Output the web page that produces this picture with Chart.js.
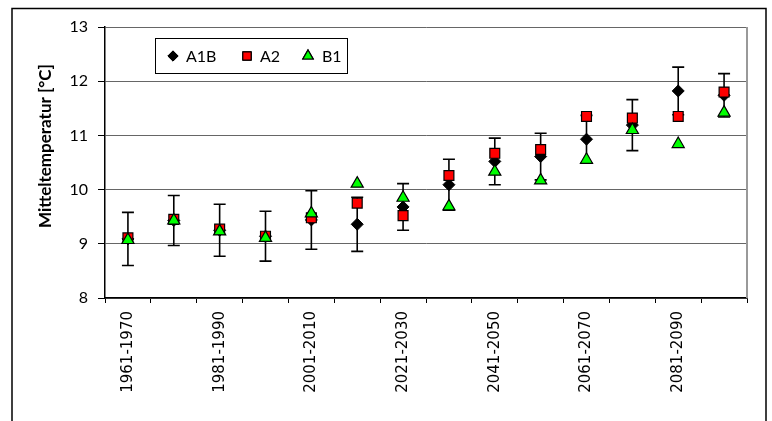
<!DOCTYPE html>
<html>
<head>
<meta charset="utf-8">
<script src="https://cdn.jsdelivr.net/npm/chart.js"></script>
<style>
  html, body { margin: 0; padding: 0; background: #fff; }
  #wrap { position: relative; width: 772px; height: 421px; }
</style>
</head>
<body>
<div id="wrap"><canvas id="myChart" width="772" height="421"></canvas></div>
<script>
const categories = ['1961-1970', '1971-1980', '1981-1990', '1991-2000', '2001-2010', '2011-2020', '2021-2030',
  '2031-2040', '2041-2050', '2051-2060', '2061-2070', '2071-2080', '2081-2090', '2091-2100'];
const a1b = [9.09, 9.43, 9.25, 9.14, 9.44, 9.36, 9.68, 10.09, 10.52, 10.61, 10.93, 11.19, 11.82, 11.74];
const a2 = [9.11, 9.45, 9.27, 9.14, 9.48, 9.75, 9.52, 10.26, 10.67, 10.74, 11.35, 11.32, 11.35, 11.80];
const b1 = [9.07, 9.43, 9.23, 9.11, 9.56, 10.11, 9.85, 9.69, 10.33, 10.17, 10.55, 11.10, 10.84, 11.42];
const a1bErr = [0.49, 0.46, 0.48, 0.46, 0.54, 0.50, 0.43, 0.47, 0.43, 0.43, 0.44, 0.47, 0.44, 0.40];
const yTicks = [8, 9, 10, 11, 12, 13];

// error bars for A1B, drawn under the markers
const errorBars = {
  id: 'errorBars',
  beforeDatasetsDraw(chart) {
    const ctx = chart.ctx;
    const x = chart.scales.x, y = chart.scales.y;
    ctx.save();
    ctx.strokeStyle = '#000';
    ctx.lineWidth = 1.6;
    a1b.forEach((v, i) => {
      const px = x.getPixelForValue(i);
      const top = y.getPixelForValue(v + a1bErr[i]);
      const bot = y.getPixelForValue(v - a1bErr[i]);
      ctx.beginPath();
      ctx.moveTo(px, top); ctx.lineTo(px, bot);
      ctx.moveTo(px - 6, top); ctx.lineTo(px + 6, top);
      ctx.moveTo(px - 6, bot); ctx.lineTo(px + 6, bot);
      ctx.stroke();
    });
    ctx.restore();
  }
};

const frame = {
  id: 'frame',
  afterDraw(chart) {
    const ctx = chart.ctx;
    const a = chart.chartArea;
    ctx.save();
    // right edge of plot area
    ctx.strokeStyle = '#999';
    ctx.lineWidth = 2;
    ctx.beginPath();
    ctx.moveTo(a.right, a.top); ctx.lineTo(a.right, a.bottom);
    ctx.stroke();

    // outer chart border
    ctx.strokeStyle = '#000';
    ctx.lineWidth = 1.5;
    ctx.beginPath();
    ctx.moveTo(12, 421); ctx.lineTo(12, 8.5); ctx.lineTo(766, 8.5); ctx.lineTo(766, 421);
    ctx.stroke();

    // y axis title
    ctx.fillStyle = '#000';
    ctx.font = 'bold 17px Lato';
    ctx.textAlign = 'center';
    ctx.textBaseline = 'middle';
    ctx.translate(46, 146);
    ctx.rotate(-Math.PI / 2);
    ctx.fillText('Mitteltemperatur [°C]', 0, 0);
    ctx.restore();

    // legend box
    ctx.save();
    ctx.fillStyle = '#fff';
    ctx.fillRect(155, 38, 192, 35);
    ctx.strokeStyle = '#000';
    ctx.lineWidth = 1;
    ctx.strokeRect(155.5, 38.5, 192, 35);
    const items = [[173, 186], [247, 260], [308, 322]];
    ctx.font = '16px Lato';
    ctx.textBaseline = 'middle';
    ctx.textAlign = 'left';
    chart.data.datasets.forEach((ds, i) => {
      const [mx, tx] = items[i];
      Chart.helpers.drawPoint(ctx, {
        pointStyle: ds.pointStyle,
        radius: ds.pointRadius * 0.85,
        borderWidth: ds.pointBorderWidth
      }, mx, 56);
      ctx.fillStyle = ds.backgroundColor;
      ctx.strokeStyle = ds.borderColor;
      ctx.lineWidth = ds.pointBorderWidth;
      ctx.fill();
      ctx.stroke();
      ctx.fillStyle = '#000';
      ctx.fillText(ds.label, tx, 57);
    });
    ctx.restore();
  }
};

const ctx = document.getElementById('myChart').getContext('2d');
new Chart(ctx, {
  type: 'line',
  data: {
    labels: categories,
    datasets: [
      { label: 'A1B', data: a1b, showLine: false, pointStyle: 'rectRot', pointRadius: 6,
        backgroundColor: '#000', borderColor: '#000', pointBorderWidth: 1, order: 3 },
      { label: 'A2', data: a2, showLine: false, pointStyle: 'rect', pointRadius: 7,
        backgroundColor: '#ff0000', borderColor: '#000', pointBorderWidth: 1.2, order: 2 },
      { label: 'B1', data: b1, showLine: false, pointStyle: 'triangle', pointRadius: 7,
        backgroundColor: '#00ff00', borderColor: '#000', pointBorderWidth: 1.2, order: 1 }
    ]
  },
  options: {
    responsive: false,
    animation: false,
    layout: { padding: { left: 0, right: 25, top: 27, bottom: 0 } },
    plugins: {
      legend: { display: false },
      tooltip: { enabled: false }
    },
    scales: {
      x: {
        offset: true,
        grid: { offset: true, drawOnChartArea: false, drawTicks: true, tickLength: 5, tickColor: '#000', lineWidth: 1 },
        border: { color: '#000', width: 1.5 },
        ticks: {
          autoSkip: false,
          minRotation: 90, maxRotation: 90,
          padding: 8,
          color: '#000',
          font: { family: 'DejaVu Sans', size: 15 },
          callback: (v, i) => (i % 2 === 0 ? categories[i] : '')
        },
        afterFit: (s) => { s.height = 123; }
      },
      y: {
        min: 8, max: 13,
        grid: { color: '#666', lineWidth: 1, tickLength: 7, tickColor: '#000' },
        border: { color: '#000', width: 1.5 },
        afterBuildTicks: (s) => { s.ticks = yTicks.map(v => ({ value: v })); },
        ticks: {
          padding: 10,
          color: '#000',
          font: { family: 'Lato', size: 16 }
        },
        afterFit: (s) => { s.width = 105; }
      }
    }
  },
  plugins: [errorBars, frame]
});
</script>
</body>
</html>
